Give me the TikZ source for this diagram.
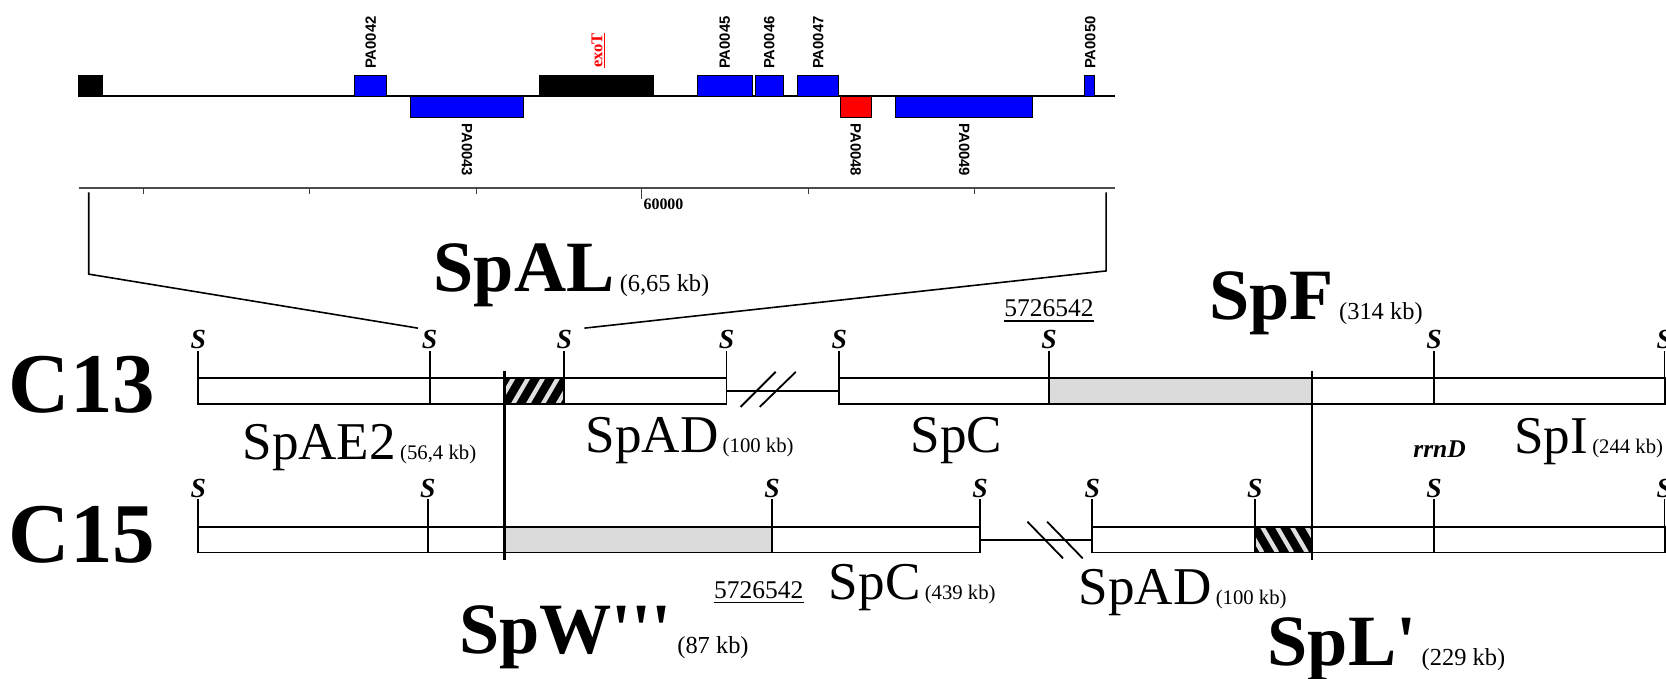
\documentclass[tikz,border=0pt]{standalone}
\usepackage{fontspec}
\setmainfont{Liberation Serif}[Ligatures=TeXOff]
\newfontfamily\genefont{Liberation Sans}
\usetikzlibrary{positioning}

\newcommand\kbb[1]{\hspace{5pt}{\mdseries\fontsize{23}{23}\selectfont #1}}
\newcommand\kbm[1]{\hspace{4pt}{\fontsize{19.5}{19.5}\selectfont #1}}

\begin{document}
\begin{tikzpicture}[
  x=1pt, y=-1pt,
  font=\rmfamily,
  gene/.style={draw=black, line width=0.9pt},
  genelab/.style={font=\genefont\bfseries\fontsize{14}{14}\selectfont, inner sep=0pt, anchor=west},
  axe/.style={line width=2pt},
  ruler/.style={line width=2pt, draw=black!70},
  tick/.style={line width=1pt, draw=black!75},
  chrom/.style={font=\bfseries\fontsize{80}{80}\selectfont, inner sep=0pt, anchor=base west},
  band/.style={font=\bfseries\fontsize{68}{68}\selectfont, inner sep=0pt, anchor=base west},
  frag/.style={font=\fontsize{50}{50}\selectfont, inner sep=0pt, anchor=base west},
  coordlab/.style={font=\fontsize{24}{24}\selectfont, inner sep=0pt, anchor=base west},
  site/.style={font=\bfseries\itshape\fontsize{26}{26}\selectfont, inner sep=1pt, anchor=south},
  bar/.style={draw=black, line width=1.7pt},
  hinge/.style={line width=2.4pt},
  zoomline/.style={line width=1.5pt},
  stripe/.style={draw=black!12, line width=4pt}
]
\useasboundingbox (0,0) rectangle (1568,639);

% --- 1. Carte des genes (SpAL) ---
\draw[axe] (74,90.5) -- (1049,90.5);
\foreach \a/\b/\c in {74/96/black, 334/364/blue, 508/615.5/black, 656/708/blue,
                      711/737.5/blue, 751/789.5/blue, 1021/1030.5/blue}
  \draw[gene, fill=\c] (\a,71) rectangle (\b,90.5);
\foreach \a/\b/\c in {386/492.5/blue, 791/820.5/red, 843/972/blue}
  \draw[gene, fill=\c] (\a,90.5) rectangle (\b,110.5);
\foreach \x/\t in {349/PA0042, 682/PA0045, 724/PA0046, 770/PA0047, 1026/PA0050}
  \node[genelab, rotate=90] (g-\t) at (\x,65) {\t};
\node[inner sep=0pt, anchor=west, rotate=90, text=red, font=\bfseries\fontsize{15.5}{15.5}\selectfont]
  (g-exoT) at (563,64) {\underline{exoT}};
\foreach \x/\t in {439.5/PA0043, 805.5/PA0048, 907.5/PA0049}
  \node[genelab, rotate=-90] (g-\t) at (\x,116) {\t};

% --- 2. Regle ---
\draw[ruler] (74,177) -- (1049,177);
\foreach \x in {134.9,291.6,448.4,761.2,917.4}
  \draw[tick] (\x,177) -- ++(0,6);
\draw[tick] (603.9,177) -- ++(0,10);
\node[inner sep=0pt, anchor=base west, font=\bfseries\fontsize{15}{15}\selectfont]
  (n60) at (605.5,197) {60000};
\coordinate (rulerL) at (83.5,181);
\coordinate (rulerR) at (1041,181);

% --- 3. Chromosome C13 ---
\node[chrom] (c13) at (8,388) {C13};
\fill[black!14] (987.3,356) rectangle (1235,380);
\begin{scope}
  \clip (475,356) rectangle (531,380);
  \fill[black] (475,356) rectangle (531,380);
  \foreach \x in {455,469,...,539}
    \draw[stripe] (\x,380) -- ++(14,-24);
\end{scope}
\draw[bar] (186.6,356) rectangle (683.7,380);
\draw[bar] (683.7,368) -- (790,368);
\draw[bar] (790,356) rectangle (1567,380);
\draw[bar] (697,383) -- (730,350);
\draw[bar] (715,383) -- (749,350);
\foreach \x [count=\i] in {186.6,404.4,531,683.7,790,987.3,1349.6,1566.5}
  \draw[bar] (\x,380) -- (\x,330) node[site] (s13-\i) {S};

% --- 4. Chromosome C15 ---
\node[chrom] (c15) at (8,529) {C15};
\fill[black!14] (475,496) rectangle (726.7,520);
\begin{scope}
  \clip (1181,496) rectangle (1235,520);
  \fill[black] (1181,496) rectangle (1235,520);
  \foreach \x in {1160,1174,...,1244}
    \draw[stripe] (\x,496) -- ++(14,24);
\end{scope}
\draw[bar] (186.6,496) rectangle (922.4,520);
\draw[bar] (922.4,508) -- (1027.6,508);
\draw[bar] (1027.6,496) rectangle (1567,520);
\draw[bar] (967,491) -- (1000.5,525.5);
\draw[bar] (985.5,491) -- (1019,525.5);
\foreach \x [count=\i] in {186.6,402.7,726.7,922.4,1028,1181,1349.6,1566.5}
  \draw[bar] (\x,520) -- (\x,470) node[site] (s15-\i) {S};

% --- 5. Points de cassure ---
\draw[hinge] (475,349) -- (475,527);
\draw[hinge] (1235,349) -- (1235,527);

% --- 6. Agrandissement vers SpAL ---
\draw[zoomline] (rulerL) -- ++(0,77) -- ([xshift=-2pt]s13-2.north west);
\draw[zoomline] (rulerR) -- ++(0,74) -- ([xshift=10pt]s13-3.north east);

% --- 7. Etiquettes ---
\node[band] (spal) at (408,274) {SpAL\kbb{(6,65 kb)}};
\node[band] (spf) at (1138,301) {SpF\kbb{(314 kb)}};
\node[band] (spw) at (432,615) {SpW'''\kbb{(87 kb)}};
\node[band] (spl) at (1193,626) {SpL'\kbb{(229 kb)}};

\node[coordlab] (pos13) at (945,298) {5726542};
\draw[line width=1.4pt] ([yshift=-4pt]pos13.base west) -- ([yshift=-4pt]pos13.base east);
\node[coordlab] (pos15) at (672,563) {5726542};
\draw[line width=1.4pt] ([yshift=-4pt]pos15.base west) -- ([yshift=-4pt]pos15.base east);

\node[frag] (sae2) at (228,432) {SpAE2\kbm{(56,4 kb)}};
\node[frag] (sad13) at (551,426) {SpAD\kbm{(100 kb)}};
\node[frag] (spc13) at (857,426) {SpC};
\node[inner sep=0pt, anchor=base west, font=\bfseries\itshape\fontsize{24}{24}\selectfont]
  (rrnd) at (1330,431) {rrnD};
\node[frag] (spi) at (1425,427) {SpI\kbm{(244 kb)}};
\node[frag] (spc15) at (780,564) {SpC\kbm{(439 kb)}};
\node[frag] (sad15) at (1015,569) {SpAD\kbm{(100 kb)}};

\end{tikzpicture}
\end{document}
